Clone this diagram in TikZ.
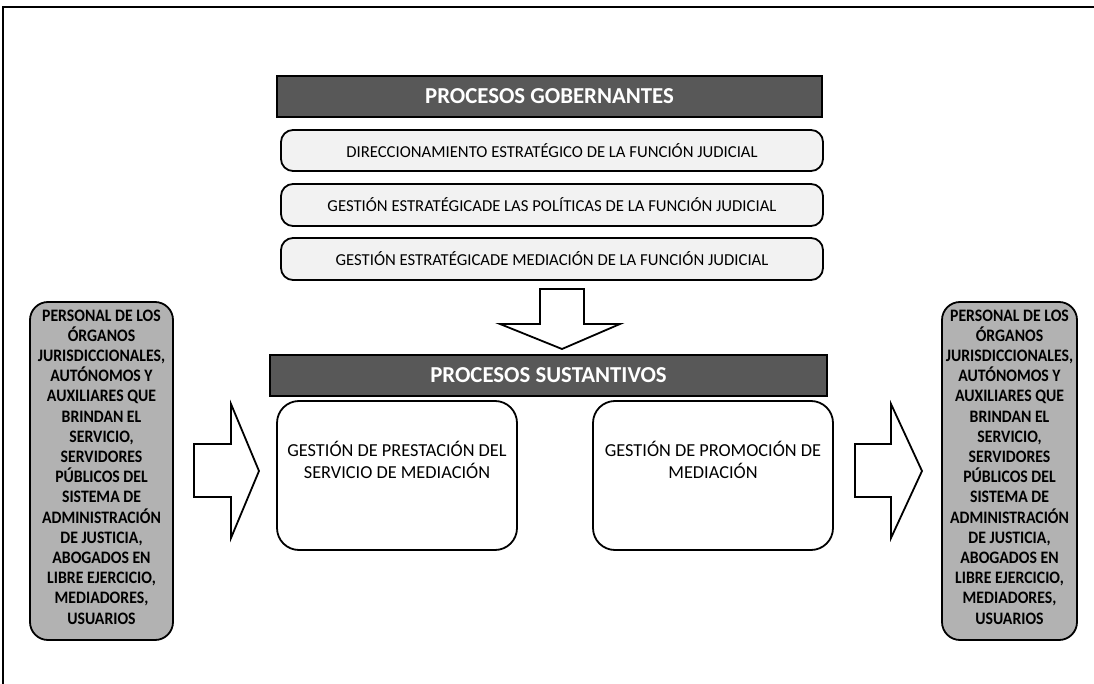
\documentclass[tikz,border=0pt]{standalone}
\usepackage{fontspec}
\setmainfont{Carlito}
\newfontfamily\peoplefont[FakeStretch=0.9]{Carlito}
\definecolor{hdrgray}{HTML}{585858}
\definecolor{lightfill}{HTML}{F2F2F2}
\definecolor{peoplegray}{HTML}{B2B2B2}
\begin{document}
\begin{tikzpicture}[x=1pt,y=-1pt,
  header/.style={draw=black, line width=1.2pt, fill=hdrgray, text=white,
    font=\fontsize{22.8}{26}\selectfont\bfseries, inner sep=0pt},
  pbox/.style={draw=black, rounded corners=12pt, line width=1.8pt, fill=lightfill,
    font=\fontsize{16.7}{19}\selectfont, inner sep=0pt},
  sbox/.style={draw=black, rounded corners=22pt, line width=1.8pt, fill=white, inner sep=0pt},
  stext/.style={font=\fontsize{18.3}{22}\selectfont, align=center, inner sep=0pt},
  people/.style={draw=black, rounded corners=18pt, line width=1.8pt, fill=peoplegray, inner sep=0pt},
  ptext/.style={font=\peoplefont\fontsize{17.5}{20.2}\selectfont\bfseries, align=center, inner sep=0pt},
  blockarrow/.style={draw=black, line width=1.8pt, fill=white, line join=miter}]
\useasboundingbox (0,0) rectangle (1094,684);
\fill[white] (0,0) rectangle (1094,684);
% partial frame
\draw[line width=2pt] (3,684) -- (3,7) -- (1094,7);

% governing processes
\node[header, minimum width=545pt, minimum height=41pt] (hgob) at (549.5,96.5) {PROCESOS GOBERNANTES};
\node[pbox, minimum width=542pt, minimum height=41pt] (g1) at (552,150.5) {DIRECCIONAMIENTO ESTRATÉGICO DE LA FUNCIÓN JUDICIAL};
\node[pbox, minimum width=542pt, minimum height=42pt] (g2) at (552,205) {GESTIÓN ESTRATÉGICADE LAS POLÍTICAS DE LA FUNCIÓN JUDICIAL};
\node[pbox, minimum width=542pt, minimum height=42pt] (g3) at (552,259) {GESTIÓN ESTRATÉGICADE MEDIACIÓN DE LA FUNCIÓN JUDICIAL};

% substantive processes
\node[header, minimum width=557pt, minimum height=41pt] (hsus) at (548.5,375.5) {PROCESOS SUSTANTIVOS};
\node[sbox, minimum width=240pt, minimum height=149pt] (bl) at (397,475.5) {};
\node[sbox, minimum width=240pt, minimum height=149pt] (br) at (713,475.5) {};
\node[stext] (tl) at (397,460) {GESTIÓN DE PRESTACIÓN DEL\\SERVICIO DE MEDIACIÓN};
\node[stext] (tr) at (713,460) {GESTIÓN DE PROMOCIÓN DE\\MEDIACIÓN};

% people boxes
\node[people, minimum width=143pt, minimum height=338pt] (pl) at (101.5,471) {};
\node[people, minimum width=135pt, minimum height=338pt] (pr) at (1009.5,471) {};
\node[ptext] (plt) at (101.5,467) {PERSONAL DE LOS\\ÓRGANOS\\JURISDICCIONALES,\\AUTÓNOMOS Y\\AUXILIARES QUE\\BRINDAN EL\\SERVICIO,\\SERVIDORES\\PÚBLICOS DEL\\SISTEMA DE\\ADMINISTRACIÓN\\DE JUSTICIA,\\ABOGADOS EN\\LIBRE EJERCICIO,\\MEDIADORES,\\USUARIOS};
\node[ptext] (prt) at (1009.5,467) {PERSONAL DE LOS\\ÓRGANOS\\JURISDICCIONALES,\\AUTÓNOMOS Y\\AUXILIARES QUE\\BRINDAN EL\\SERVICIO,\\SERVIDORES\\PÚBLICOS DEL\\SISTEMA DE\\ADMINISTRACIÓN\\DE JUSTICIA,\\ABOGADOS EN\\LIBRE EJERCICIO,\\MEDIADORES,\\USUARIOS};

% block arrows
\draw[blockarrow] (540,289) -- (584,289) -- (584,324) -- (620,324) -- (562,349)
  -- (500,324) -- (540,324) -- cycle;
\draw[blockarrow] (194,444) -- (231,444) -- (231,404) -- (259,471) -- (231,538)
  -- (231,497) -- (194,497) -- cycle;
\draw[blockarrow] (855,444) -- (891,444) -- (891,404) -- (922,471) -- (891,538)
  -- (891,497) -- (855,497) -- cycle;
\end{tikzpicture}
\end{document}
